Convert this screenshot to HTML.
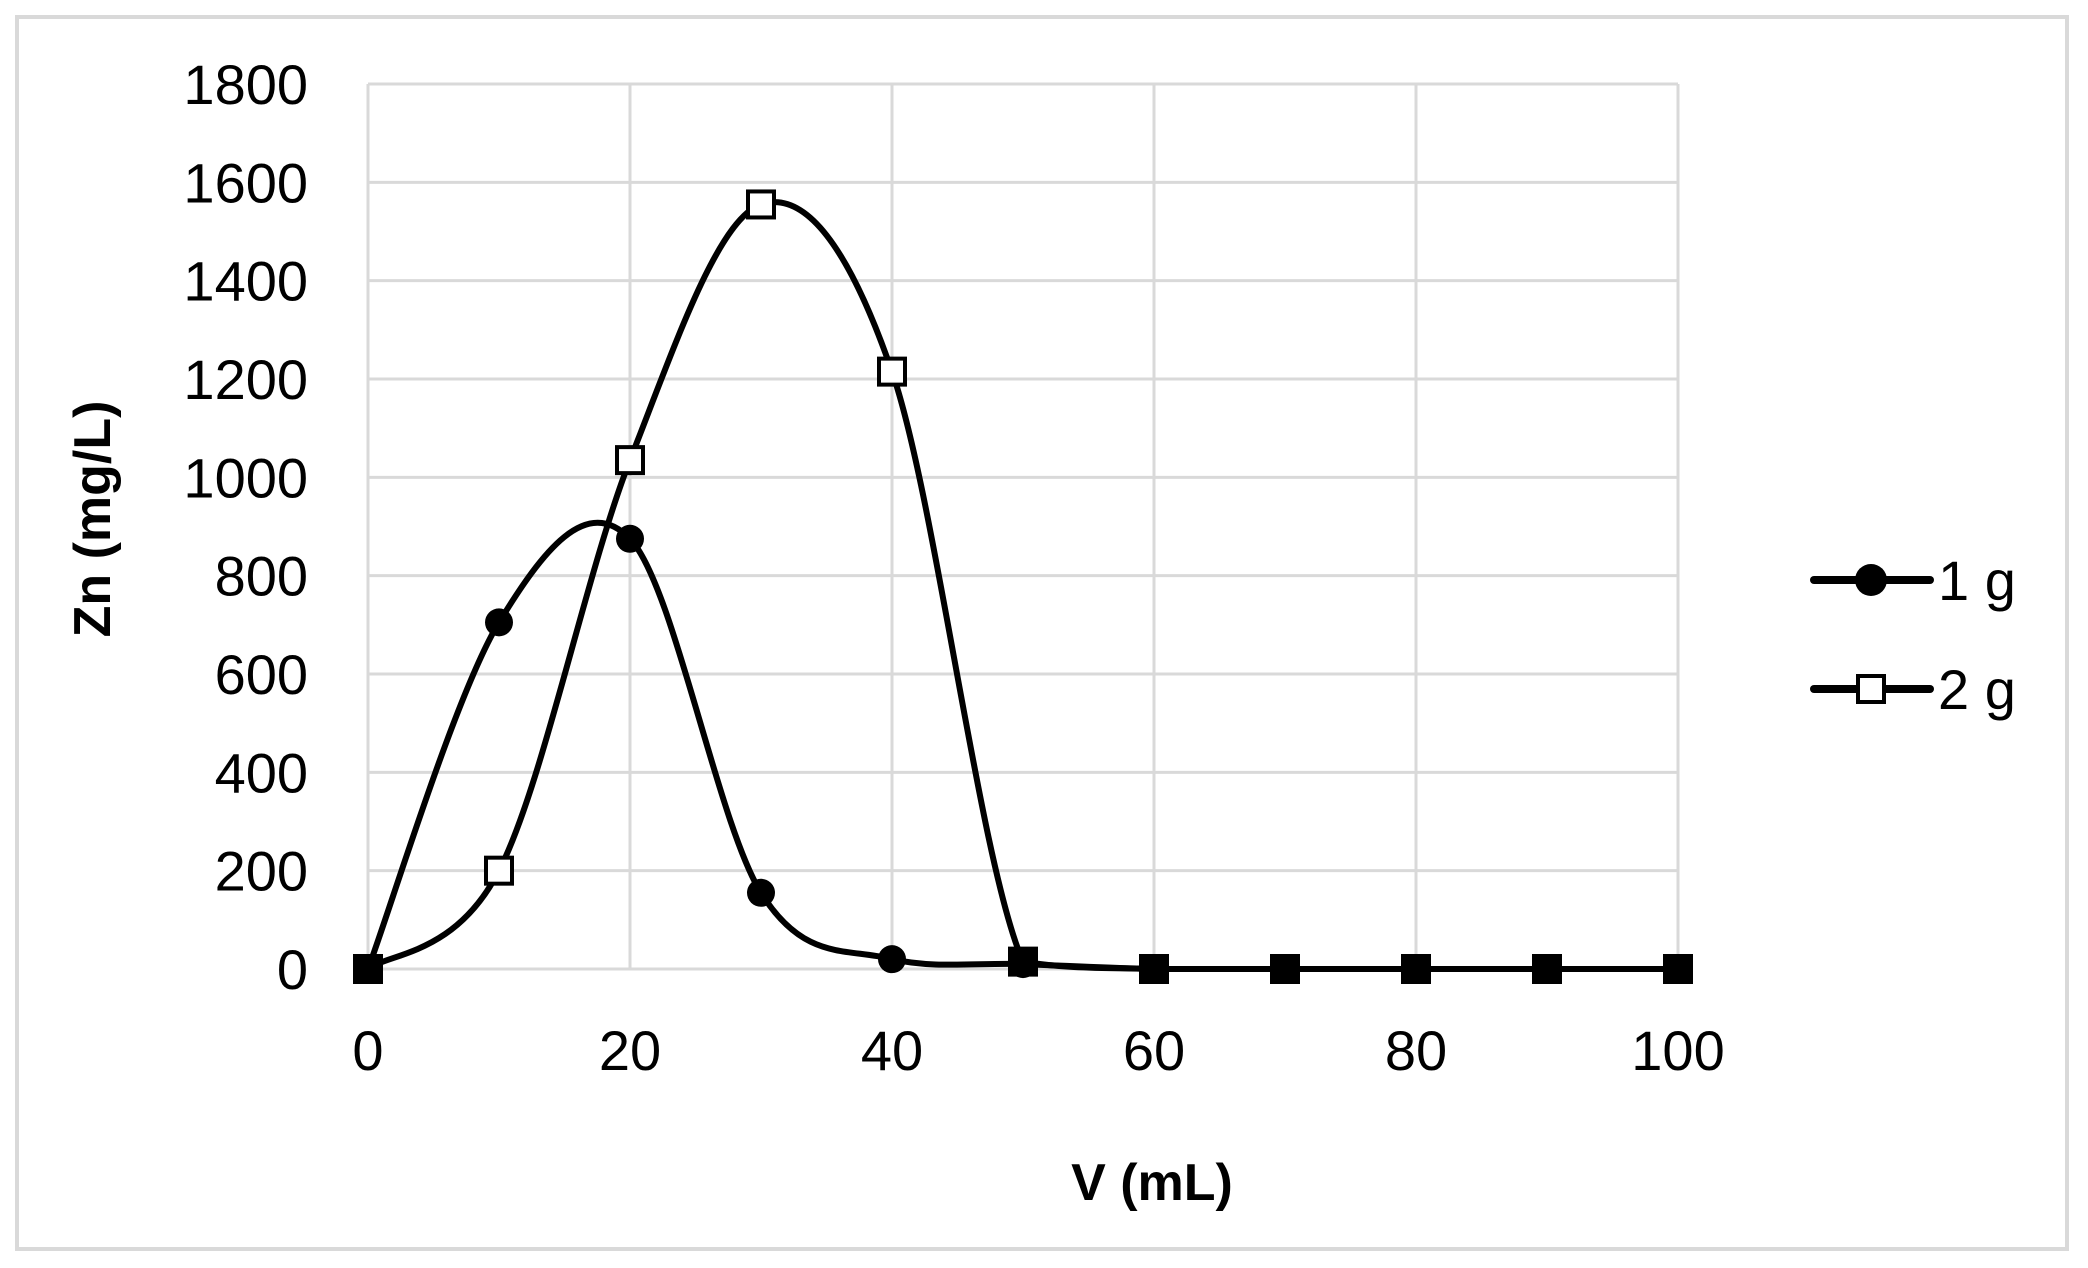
<!DOCTYPE html>
<html><head><meta charset="utf-8"><style>
html,body{margin:0;padding:0;background:#fff}
svg{display:block}
text{font-family:"Liberation Sans",sans-serif;fill:#000}
</style></head><body>
<svg id="s" width="2088" height="1268" viewBox="0 0 2088 1268" xmlns="http://www.w3.org/2000/svg">
<rect x="0" y="0" width="2088" height="1268" fill="#fff"/>
<rect x="17" y="17" width="2050" height="1232" fill="none" stroke="#d9d9d9" stroke-width="4"/>
<g id="grid" stroke="#d9d9d9" stroke-width="3"></g>
<g id="ylab" font-size="56" text-anchor="end"></g>
<g id="xlab" font-size="56" text-anchor="middle"></g>
<text x="1152" y="1200" font-size="52" font-weight="bold" text-anchor="middle">V (mL)</text>
<text transform="translate(110,519) rotate(-90)" font-size="52" font-weight="bold" text-anchor="middle">Zn (mg/L)</text>
<g id="series"></g>
<g>
<line x1="1814" y1="580" x2="1930" y2="580" stroke="#000" stroke-width="8" stroke-linecap="round"/>
<circle cx="1871" cy="580" r="16" fill="#000"/>
<text x="1938" y="600" font-size="56">1 g</text>
<line x1="1814" y1="689" x2="1930" y2="689" stroke="#000" stroke-width="8" stroke-linecap="round"/>
<rect x="1858" y="676" width="26" height="26" fill="#fff" stroke="#000" stroke-width="4"/>
<text x="1938" y="709" font-size="56">2 g</text>
</g>
</svg>
<script>
var NS="http://www.w3.org/2000/svg";
function X(v){return 368+v*13.1}
function Y(v){return 969-v*0.49167}
function el(t,a,p){var e=document.createElementNS(NS,t);for(var k in a)e.setAttribute(k,a[k]);p.appendChild(e);return e}
var g=document.getElementById('grid');
for(var i=0;i<=9;i++){var y=Y(i*200);el('line',{x1:368,y1:y,x2:1678,y2:y},g);}
for(var i=0;i<=5;i++){var x=X(i*20);el('line',{x1:x,y1:84,x2:x,y2:969},g);}
var yl=document.getElementById('ylab');
for(var i=0;i<=9;i++){var t=el('text',{x:308,y:Y(i*200)+20},yl);t.textContent=i*200;}
var xl=document.getElementById('xlab');
for(var i=0;i<=5;i++){var t=el('text',{x:X(i*20),y:1070},xl);t.textContent=i*20;}
var s1=[0,705,875,155,20,10,0,0,0,0,0];
var s2=[0,200,1035,1555,1215,15,0,0,0,0,0];
function path(d){var p=d.map(function(v,i){return [X(i*10),Y(v)]});
var s="M"+p[0][0]+","+p[0][1];var b=Y(0);
for(var i=0;i<p.length-1;i++){var p0=p[i>0?i-1:0],p1=p[i],p2=p[i+1],p3=p[i+2<p.length?i+2:p.length-1];
var c1=[p1[0]+(p2[0]-p0[0])/6,Math.min(b,p1[1]+(p2[1]-p0[1])/6)],c2=[p2[0]-(p3[0]-p1[0])/6,Math.min(b,p2[1]-(p3[1]-p1[1])/6)];
s+=" C"+c1+" "+c2+" "+p2;}return s}
var sg=document.getElementById('series');
el('path',{d:path(s1),fill:'none',stroke:'#000','stroke-width':6},sg);
el('path',{d:path(s2),fill:'none',stroke:'#000','stroke-width':6},sg);
s1.forEach(function(v,i){el('circle',{cx:X(i*10),cy:Y(v),r:14,fill:'#000'},sg)});
s2.forEach(function(v,i){var x=X(i*10),y=Y(v);el('rect',{x:x-13,y:y-13,width:26,height:26,fill:i>=5||i==0?'#000':'#fff',stroke:'#000','stroke-width':4},sg)});
</script>
</body></html>
